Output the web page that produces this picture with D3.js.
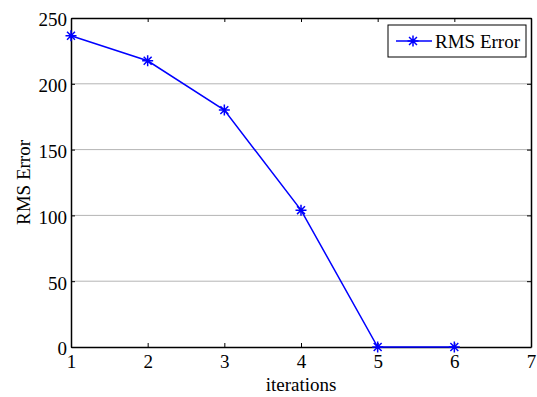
<!DOCTYPE html>
<html>
<head>
<meta charset="utf-8">
<script src="https://cdn.jsdelivr.net/npm/d3@7"></script>
<style>
  body { margin: 0; background: #fff; }
  svg text { font-family: "Liberation Serif", "Times New Roman", serif; fill: #000; }
</style>
</head>
<body>
<script>
// data
var iterations = [1, 2, 3, 4, 5, 6];
var rmsError = [236.5, 217.5, 180, 104, 0, 0];
var xTicks = [1, 2, 3, 4, 5, 6, 7];
var yTicks = [0, 50, 100, 150, 200, 250];
var seriesName = "RMS Error";

var width = 537, height = 397;
var margins = {top: 18, right: 6, bottom: 50, left: 71};
var fontSize = "19px";

var svg = d3.select("body").append("svg")
    .attr("width", width)
    .attr("height", height);

var xScale = d3.scaleLinear().domain([1, 7]).range([margins.left, width - margins.right]);
var yScale = d3.scaleLinear().domain([0, 250]).range([height - margins.bottom, margins.top]);

// horizontal grid lines
svg.append("g")
   .selectAll("line")
   .data(yTicks.filter(d => d > 0 && d < 250))
   .enter().append("line")
     .attr("x1", xScale(1)).attr("x2", xScale(7))
     .attr("y1", d => yScale(d)).attr("y2", d => yScale(d))
     .attr("stroke", "#b4b4b4").attr("stroke-width", 1);

// axes, ticks pointing inward like matlab
var fmt = d3.format("d");
var xAxis = d3.axisBottom(xScale).tickValues(xTicks).tickSizeInner(-4).tickSizeOuter(0).tickFormat(fmt);
var yAxis = d3.axisLeft(yScale).tickValues(yTicks).tickSizeInner(-4).tickSizeOuter(0).tickPadding(4).tickFormat(fmt);
var xTop = d3.axisTop(xScale).tickValues(xTicks).tickSizeInner(-4).tickSizeOuter(0).tickFormat("");
var yRight = d3.axisRight(yScale).tickValues(yTicks).tickSizeInner(-4).tickSizeOuter(0).tickFormat("");

function styleAxis(g) {
  g.attr("font-family", null);
  g.selectAll("path.domain").attr("stroke", "#000").attr("stroke-width", 1.5).attr("fill", "none");
  g.selectAll(".tick line").attr("stroke", "#000").attr("stroke-width", 1);
  g.selectAll(".tick text").style("font-size", fontSize).attr("fill", "#000");
}

svg.append("g").attr("transform", "translate(0," + yScale(0) + ")").call(xAxis).call(styleAxis)
   .selectAll(".tick text").attr("y", 21).attr("dy", 0);
svg.append("g").attr("transform", "translate(" + xScale(1) + ",0)").call(yAxis).call(styleAxis)
   .selectAll(".tick text").attr("dy", "0.42em");
svg.append("g").attr("transform", "translate(0," + yScale(250) + ")").call(xTop).call(styleAxis);
svg.append("g").attr("transform", "translate(" + xScale(7) + ",0)").call(yRight).call(styleAxis);

// axis labels
svg.append("text")
   .attr("x", (xScale(1) + xScale(7)) / 2)
   .attr("y", 391)
   .attr("text-anchor", "middle")
   .style("font-size", fontSize)
   .text("iterations");

svg.append("text")
   .attr("transform", "translate(30," + ((yScale(0) + yScale(250)) / 2) + ") rotate(-90)")
   .attr("text-anchor", "middle")
   .style("font-size", fontSize)
   .text("RMS Error");

// series line
var data = iterations.map((d, i) => ({x: d, y: rmsError[i]}));
var line = d3.line().x(d => xScale(d.x)).y(d => yScale(d.y));

svg.append("path")
   .datum(data)
   .attr("fill", "none")
   .attr("stroke", "#0000ff")
   .attr("stroke-width", 1.5)
   .attr("d", line);

// asterisk marker
function star(g, r) {
  var a = r * 0.72;
  g.append("path")
   .attr("d", "M" + (-r) + ",0H" + r + "M0," + (-r) + "V" + r +
              "M" + (-a) + "," + (-a) + "L" + a + "," + a +
              "M" + (-a) + "," + a + "L" + a + "," + (-a))
   .attr("stroke", "#0000ff").attr("stroke-width", 1.5).attr("fill", "none");
}

svg.append("g").selectAll("g")
   .data(data)
   .enter().append("g")
     .attr("transform", d => "translate(" + xScale(d.x) + "," + yScale(d.y) + ")")
     .each(function() { star(d3.select(this), 5.5); });

// legend
var legend = svg.append("g").attr("transform", "translate(388,25)");
legend.append("rect")
   .attr("width", 138).attr("height", 32)
   .attr("fill", "#fff").attr("stroke", "#000").attr("stroke-width", 1);
legend.append("line")
   .attr("x1", 8).attr("x2", 44).attr("y1", 16).attr("y2", 16)
   .attr("stroke", "#0000ff").attr("stroke-width", 1.5);
star(legend.append("g").attr("transform", "translate(25,16)"), 5.5);
legend.append("text")
   .attr("x", 47).attr("y", 23)
   .style("font-size", fontSize)
   .text(seriesName);
</script>
</body>
</html>
